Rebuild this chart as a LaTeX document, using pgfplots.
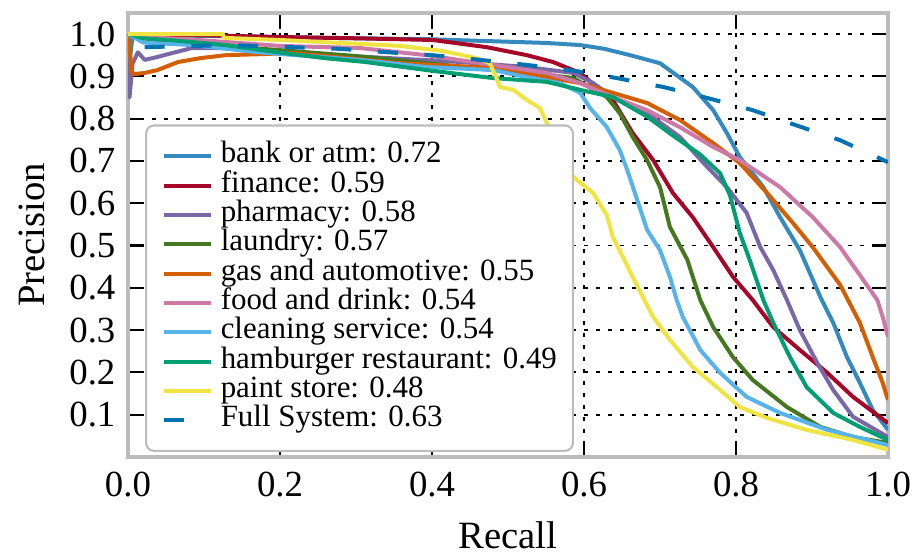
\documentclass[border=0pt]{standalone}
\usepackage{pgfplots}
\pgfplotsset{compat=1.18}
\usepackage{fontspec}
\setmainfont{Liberation Serif}
\definecolor{cbank}{HTML}{348ABD}
\definecolor{cfin}{HTML}{A60628}
\definecolor{cpha}{HTML}{7A68A6}
\definecolor{clau}{HTML}{467821}
\definecolor{cgas}{HTML}{D55E00}
\definecolor{cfood}{HTML}{CC79A7}
\definecolor{cclean}{HTML}{56B4E9}
\definecolor{cham}{HTML}{009E73}
\definecolor{cpaint}{HTML}{F0E442}
\definecolor{cfull}{HTML}{0072B2}
\definecolor{cframe}{HTML}{BCBCBC}
\begin{document}
\begin{tikzpicture}
\begin{axis}[
  at={(0,0)}, anchor=south west,
  scale only axis, width=285pt, height=166.5pt,
  xmin=0, xmax=1, ymin=0, ymax=1.05,
  xtick={0,0.2,0.4,0.6,0.8,1.0},
  xticklabels={0.0,0.2,0.4,0.6,0.8,1.0},
  ytick={0.1,0.2,0.3,0.4,0.5,0.6,0.7,0.8,0.9,1.0},
  yticklabels={0.1,0.2,0.3,0.4,0.5,0.6,0.7,0.8,0.9,1.0},
  tick label style={font=\fontsize{13.8}{16}\selectfont},
  xticklabel style={yshift=-2pt},
  yticklabel style={xshift=-1.2pt},
  label style={font=\fontsize{14.5}{16}\selectfont},
  xlabel={Recall}, ylabel={Precision},
  xlabel style={at={(axis description cs:0.5,0)}, anchor=base, yshift=-34.2pt},
  ylabel style={at={(axis description cs:-0.1105,0.5)}, anchor=base},
  axis line style={draw=cframe, line width=1.3pt},
  grid=major,
  major grid style={black, line width=0.7pt, dash pattern=on 1.5pt off 3pt},
  tick align=inside, major tick length=6pt,
  tick style={black, line width=0.8pt},
  legend cell align=left,
  legend style={at={(axis description cs:0.0224,0.0113)}, anchor=south west,
    draw=cframe, line width=0.8pt, rounded corners=3pt, fill=white,
    font=\fontsize{11.6}{11}\selectfont, inner xsep=6pt, inner ysep=6pt,
    column sep=3pt, nodes={inner sep=0pt, text height=8pt, text depth=3pt}},
  legend image code/.code={\draw[#1] (0pt,0pt) -- (17.5pt,0pt);},
  every axis plot/.append style={line width=1.5pt, line join=round},
  no markers,
]
\addplot[cbank] coordinates {(0,1.0)(0.003,0.95)(0.006,0.995)(0.05,0.997)(0.2,0.993)(0.3,0.99)(0.393,0.988)(0.463,0.984)(0.55,0.979)(0.595,0.974)(0.627,0.965)(0.661,0.950)(0.70,0.931)(0.743,0.875)(0.770,0.820)(0.788,0.766)(0.805,0.709)(0.836,0.638)(0.858,0.567)(0.884,0.489)(0.911,0.378)(0.928,0.317)(0.946,0.236)(0.963,0.175)(0.980,0.111)(1.0,0.064)};
\addlegendentry{bank or atm: 0.72}
\addplot[cfin] coordinates {(0,1.0)(0.1,0.997)(0.2,0.993)(0.3,0.99)(0.401,0.986)(0.472,0.969)(0.525,0.950)(0.559,0.934)(0.595,0.908)(0.621,0.868)(0.638,0.844)(0.664,0.766)(0.691,0.702)(0.717,0.624)(0.743,0.567)(0.770,0.496)(0.796,0.426)(0.822,0.371)(0.849,0.307)(0.884,0.253)(0.920,0.199)(0.954,0.142)(1.0,0.080)};
\addlegendentry{finance: 0.59}
\addplot[cpha] coordinates {(0,0.99)(0.002,0.85)(0.006,0.93)(0.013,0.957)(0.022,0.939)(0.039,0.946)(0.058,0.955)(0.084,0.967)(0.128,0.967)(0.183,0.957)(0.314,0.946)(0.437,0.934)(0.525,0.922)(0.586,0.908)(0.612,0.884)(0.638,0.851)(0.683,0.813)(0.726,0.757)(0.762,0.686)(0.788,0.638)(0.814,0.577)(0.832,0.496)(0.849,0.442)(0.867,0.371)(0.884,0.300)(0.907,0.222)(0.928,0.158)(0.954,0.095)(1.0,0.047)};
\addlegendentry{pharmacy: 0.58}
\addplot[clau] coordinates {(0,1.0)(0.02,0.99)(0.1,0.975)(0.2,0.962)(0.3,0.948)(0.4,0.93)(0.48,0.915)(0.533,0.908)(0.586,0.896)(0.630,0.851)(0.647,0.813)(0.664,0.757)(0.683,0.702)(0.700,0.638)(0.713,0.544)(0.736,0.466)(0.753,0.371)(0.770,0.307)(0.796,0.236)(0.822,0.182)(0.867,0.118)(0.911,0.071)(0.954,0.047)(1.0,0.033)};
\addlegendentry{laundry: 0.57}
\addplot[cgas] coordinates {(0,1.0)(0.003,0.95)(0.006,0.905)(0.022,0.908)(0.039,0.915)(0.066,0.934)(0.095,0.943)(0.128,0.950)(0.183,0.953)(0.216,0.955)(0.259,0.948)(0.358,0.931)(0.480,0.920)(0.595,0.884)(0.638,0.861)(0.683,0.837)(0.726,0.797)(0.770,0.742)(0.805,0.695)(0.841,0.624)(0.875,0.553)(0.901,0.496)(0.937,0.407)(0.963,0.317)(0.980,0.236)(0.993,0.175)(1.0,0.135)};
\addlegendentry{gas and automotive: 0.55}
\addplot[cfood] coordinates {(0,1.0)(0.05,0.99)(0.1,0.985)(0.2,0.972)(0.305,0.967)(0.393,0.950)(0.480,0.927)(0.551,0.908)(0.595,0.884)(0.638,0.851)(0.683,0.820)(0.726,0.780)(0.770,0.733)(0.805,0.702)(0.858,0.638)(0.901,0.567)(0.937,0.496)(0.963,0.430)(0.986,0.371)(0.993,0.331)(1.0,0.284)};
\addlegendentry{food and drink: 0.54}
\addplot[cclean] coordinates {(0,1.0)(0.02,0.98)(0.084,0.974)(0.171,0.957)(0.303,0.939)(0.393,0.922)(0.480,0.915)(0.525,0.898)(0.568,0.884)(0.595,0.861)(0.608,0.825)(0.630,0.780)(0.647,0.726)(0.657,0.678)(0.670,0.608)(0.683,0.537)(0.700,0.489)(0.713,0.426)(0.722,0.371)(0.730,0.331)(0.753,0.253)(0.779,0.199)(0.814,0.142)(0.858,0.104)(0.920,0.064)(1.0,0.028)};
\addlegendentry{cleaning service: 0.54}
\addplot[cham] coordinates {(0,1.0)(0.02,0.99)(0.06,0.985)(0.084,0.981)(0.128,0.974)(0.197,0.957)(0.259,0.943)(0.312,0.934)(0.401,0.913)(0.480,0.896)(0.551,0.887)(0.595,0.868)(0.638,0.851)(0.683,0.805)(0.717,0.760)(0.753,0.715)(0.779,0.671)(0.792,0.619)(0.805,0.530)(0.818,0.466)(0.836,0.371)(0.849,0.317)(0.871,0.236)(0.893,0.165)(0.928,0.104)(0.963,0.071)(1.0,0.040)};
\addlegendentry{hamburger restaurant: 0.49}
\addplot[cpaint] coordinates {(0,1.0)(0.125,1.0)(0.126,0.991)(0.2,0.986)(0.358,0.972)(0.414,0.960)(0.459,0.943)(0.476,0.931)(0.486,0.891)(0.489,0.875)(0.507,0.868)(0.525,0.844)(0.542,0.825)(0.551,0.790)(0.562,0.749)(0.572,0.709)(0.586,0.662)(0.612,0.624)(0.630,0.572)(0.638,0.520)(0.651,0.473)(0.664,0.426)(0.678,0.376)(0.691,0.331)(0.713,0.277)(0.743,0.213)(0.775,0.165)(0.805,0.118)(0.841,0.092)(0.893,0.064)(0.954,0.040)(1.0,0.017)};
\addlegendentry{paint store: 0.48}
\addplot[cfull, dash pattern=on 7.5pt off 10pt] coordinates {(0.022,0.969)(0.134,0.974)(0.279,0.965)(0.341,0.957)(0.401,0.950)(0.463,0.939)(0.525,0.927)(0.588,0.913)(0.643,0.896)(0.704,0.875)(0.762,0.849)(0.822,0.820)(0.878,0.785)(0.937,0.749)(1.0,0.697)};
\addlegendentry{Full System: 0.63}
\end{axis}
\pgfresetboundingbox
\path[use as bounding box] (-48pt,-36.4pt) rectangle (297pt,171.35pt);
\end{tikzpicture}
\end{document}
